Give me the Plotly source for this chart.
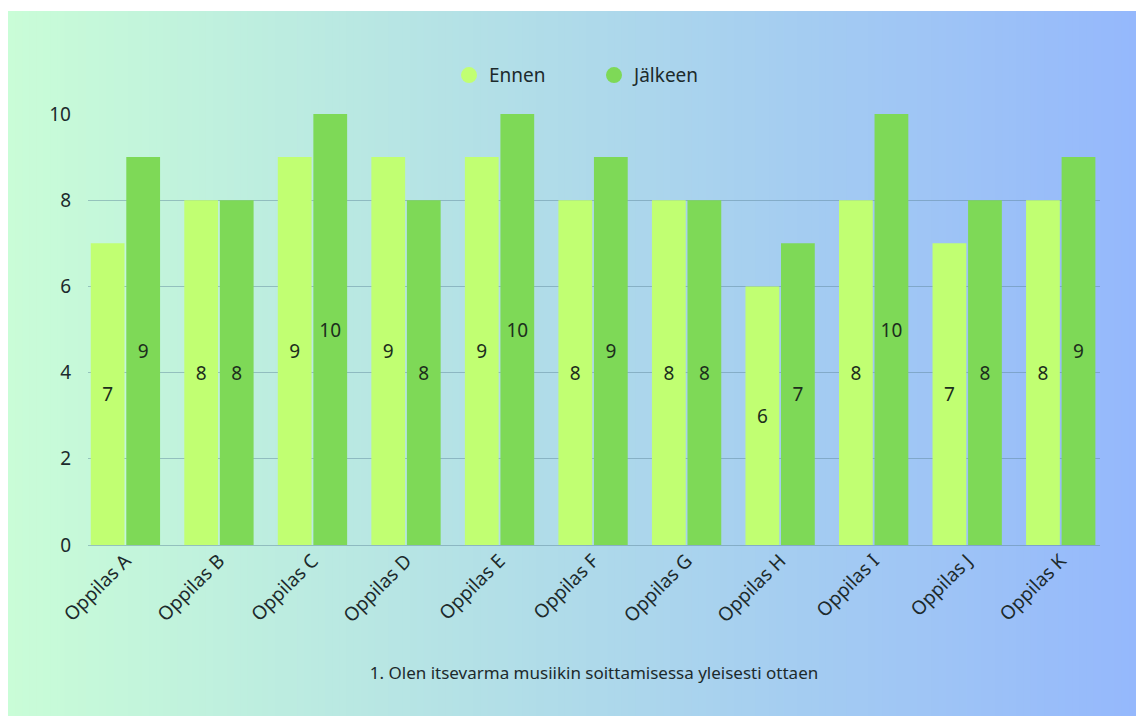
import plotly.graph_objects as go

categories = ["Oppilas A", "Oppilas B", "Oppilas C", "Oppilas D", "Oppilas E", "Oppilas F",
              "Oppilas G", "Oppilas H", "Oppilas I", "Oppilas J", "Oppilas K"]
ennen = [7, 8, 9, 9, 9, 8, 8, 6, 8, 7, 8]
jalkeen = [9, 8, 10, 8, 10, 9, 8, 7, 10, 8, 9]
y_ticks = [0, 2, 4, 6, 8, 10]
x_title = "1. Olen itsevarma musiikin soittamisessa yleisesti ottaen"

W, H = 1136, 716
ML, MR, MT, MB = 88, 36, 114, 171
PW = W - ML - MR
PH = H - MT - MB

C_ENNEN = "#c1ff72"
C_JALK = "#7ed957"
TXT = "#1c2a2c"
FONT = "Noto Sans"

fig = go.Figure()
fig.add_trace(go.Bar(x=categories, y=ennen, name="Ennen", marker_color=C_ENNEN,
                     marker_line_width=0,
                     text=ennen, textposition="inside", insidetextanchor="middle",
                     textfont=dict(size=19, color="#1c2e1c", family=FONT),
                     showlegend=False))
fig.add_trace(go.Bar(x=categories, y=jalkeen, name="Jälkeen", marker_color=C_JALK,
                     marker_line_width=0,
                     text=jalkeen, textposition="inside", insidetextanchor="middle",
                     textfont=dict(size=19, color="#1c2e1c", family=FONT),
                     showlegend=False))
# legend entries with round markers
fig.add_trace(go.Scatter(x=[None], y=[None], mode="markers", name="Ennen",
                         marker=dict(color=C_ENNEN, size=22, symbol="circle")))
fig.add_trace(go.Scatter(x=[None], y=[None], mode="markers", name="Jälkeen",
                         marker=dict(color=C_JALK, size=22, symbol="circle")))

# horizontal gradient background made of thin strips
def lerp(a, b, t):
    return tuple(round(a[i] + (b[i] - a[i]) * t) for i in range(3))

c0 = (0xc9, 0xfd, 0xd7)
c1 = (0x95, 0xb8, 0xfc)
x_start, x_end = 8, W
y_top, y_bot = 11, H
N = 160
shapes = []
for i in range(N):
    px0 = x_start + (x_end - x_start) * i / N
    px1 = x_start + (x_end - x_start) * (i + 1) / N + 1
    t = (i + 0.5) / N
    r, g, b = lerp(c0, c1, t)
    shapes.append(dict(type="rect", xref="paper", yref="paper", layer="below",
                       x0=(px0 - ML) / PW, x1=(px1 - ML) / PW,
                       y0=(H - MB - y_bot - 1) / PH, y1=(H - MB - y_top) / PH,
                       fillcolor=f"rgb({r},{g},{b})", line=dict(width=0)))

fig.update_layout(
    width=W, height=H,
    margin=dict(l=ML, r=MR, t=MT, b=MB, pad=0),
    paper_bgcolor="white",
    plot_bgcolor="rgba(0,0,0,0)",
    shapes=shapes,
    barmode="group",
    bargap=0.24,
    bargroupgap=0.05,
    font=dict(family=FONT, color=TXT),
    legend=dict(orientation="h", x=0.5, xanchor="center", y=1.09, yanchor="middle",
                font=dict(size=19, color=TXT, family=FONT), bgcolor="rgba(0,0,0,0)",
                itemsizing="trace", entrywidth=100),
    xaxis=dict(range=[-0.4, 10.42], tickangle=-45, tickfont=dict(size=19, color=TXT, family=FONT),
               showgrid=False, showline=False, zeroline=False, ticks="",
               title=dict(text=x_title, font=dict(size=17, color=TXT, family=FONT), standoff=40)),
    yaxis=dict(range=[0, 10], tickvals=y_ticks, tickfont=dict(size=19, color=TXT, family=FONT),
               showgrid=True, gridcolor="rgba(90,130,150,0.45)", gridwidth=1,
               zeroline=True, zerolinecolor="rgba(90,130,150,0.45)", zerolinewidth=1,
               showline=False, ticks="", ticklabelstandoff=16),
)

fig.write_html("out.html", config={"displayModeBar": False},
               post_script="document.body.style.margin='0px';document.body.style.overflow='hidden';")
